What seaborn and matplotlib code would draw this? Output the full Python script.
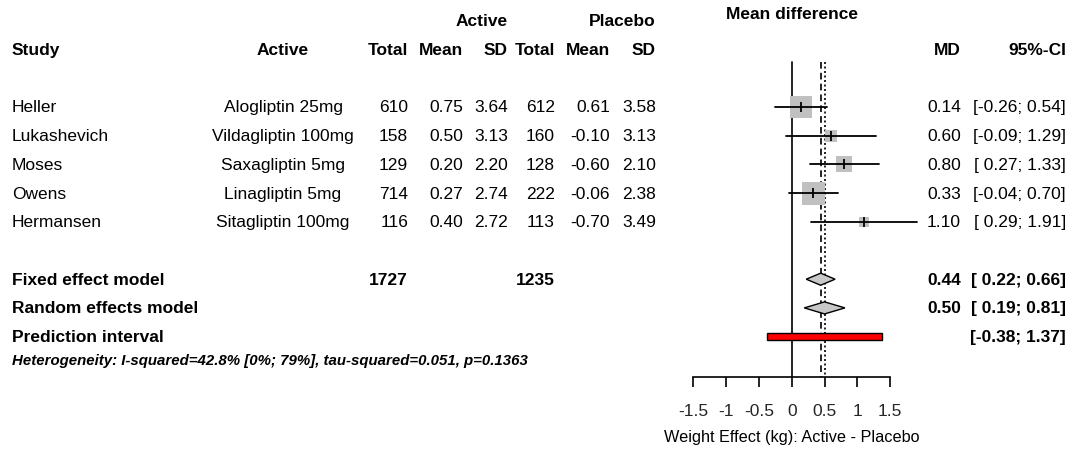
import numpy as np
import pandas as pd
import matplotlib
matplotlib.use("Agg")
import matplotlib.pyplot as plt
import matplotlib.transforms as mtransforms
import seaborn as sns

# ---------------- data ----------------
studies = ["Heller", "Lukashevich", "Moses", "Owens", "Hermansen"]
actives = ["Alogliptin 25mg", "Vildagliptin 100mg", "Saxagliptin 5mg",
           "Linagliptin 5mg", "Sitagliptin 100mg"]
act_total = [610, 158, 129, 714, 116]
act_mean = [0.75, 0.50, 0.20, 0.27, 0.40]
act_sd = [3.64, 3.13, 2.20, 2.74, 2.72]
pla_total = [612, 160, 128, 222, 113]
pla_mean = [0.61, -0.10, -0.60, -0.06, -0.70]
pla_sd = [3.58, 3.13, 2.10, 2.38, 3.49]
md = [0.14, 0.60, 0.80, 0.33, 1.10]
ci_low = [-0.26, -0.09, 0.27, -0.04, 0.29]
ci_high = [0.54, 1.29, 1.33, 0.70, 1.91]

fixed_md, fixed_low, fixed_high = 0.44, 0.22, 0.66
random_md, random_low, random_high = 0.50, 0.19, 0.81
pred_low, pred_high = -0.38, 1.37
total_active, total_placebo = 1727, 1235
heterogeneity = "Heterogeneity: I-squared=42.8% [0%; 79%], tau-squared=0.051, p=0.1363"
tick_values = [-1.5, -1, -0.5, 0, 0.5, 1, 1.5]
tick_labels = ["-1.5", "-1", "-0.5", "0", "0.5", "1", "1.5"]
x_label = "Weight Effect (kg): Active - Placebo"

# ---------------- style ----------------
sns.set_theme(style="white")
plt.rcParams["font.family"] = ["Liberation Sans", "DejaVu Sans"]
plt.rcParams["text.color"] = "black"

W, H = 1071, 452
fig = plt.figure(figsize=(W / 100, H / 100), dpi=100)
ax = fig.add_axes([0, 0, 1, 1])

# layout: pixel mapping
x0_px, px_per_unit = 791.8, 65.6
y0_px, px_per_row = 108.0, 28.7
ax.set_xlim((0 - x0_px) / px_per_unit, (W - x0_px) / px_per_unit)
ax.set_ylim((H - y0_px) / px_per_row, (0 - y0_px) / px_per_row)

study_rows = np.arange(len(studies))
row_fixed, row_random, row_pred = 6, 7, 8
axis_row = (378 - y0_px) / px_per_row
top_row = (63 - y0_px) / px_per_row

FS = 12.5
trans = mtransforms.blended_transform_factory(ax.transAxes, ax.transData)
def px(x):
    return x / W

# ---------------- reference lines ----------------
ax.plot([0, 0], [top_row, axis_row], color="black", lw=1.2, zorder=1)
ax.plot([fixed_md, fixed_md], [top_row, axis_row], color="black", lw=1.2,
        ls=(0, (4, 2.5)), zorder=1)
ax.plot([random_md, random_md], [top_row, axis_row], color="black", lw=1.2,
        ls=(0, (1.2, 1.5)), zorder=1)

# ---------------- study CIs and squares ----------------
df = pd.DataFrame({"study": studies, "md": md, "low": ci_low, "high": ci_high,
                   "row": study_rows})
se = (df["high"] - df["low"]) / (2 * 1.96)
df["weight"] = 1 / se**2
for _, r in df.iterrows():
    ax.plot([r["low"], r["high"]], [r["row"], r["row"]], color="black",
            lw=1.3, zorder=3)
max_side_pt = 16.5
sns.scatterplot(data=df, x="md", y="row", size="weight",
                sizes=(0, max_side_pt**2), size_norm=(0, df["weight"].max()),
                marker="s", color="#c0c0c0", linewidth=0, legend=False,
                ax=ax, zorder=2)
sns.scatterplot(data=df, x="md", y="row", marker="|", s=60, color="black",
                linewidth=1.3, legend=False, ax=ax, zorder=4)

# ---------------- diamonds ----------------
dh = 0.21
for m, lo, hi, rw in [(fixed_md, fixed_low, fixed_high, row_fixed),
                      (random_md, random_low, random_high, row_random)]:
    ax.fill([lo, m, hi, m], [rw, rw - dh, rw, rw + dh], facecolor="#c8c8c8",
            edgecolor="black", lw=1.0, zorder=5)

# prediction interval
ax.barh(y=row_pred, width=pred_high - pred_low, left=pred_low, height=0.23,
        color="red", edgecolor="black", lw=1.0, zorder=5)

# ---------------- x axis ----------------
for s in ["top", "left", "right"]:
    ax.spines[s].set_visible(False)
ax.spines["bottom"].set_position(("data", axis_row))
ax.spines["bottom"].set_bounds(tick_values[0], tick_values[-1])
ax.spines["bottom"].set_color("black")
ax.spines["bottom"].set_linewidth(1.2)
ax.set_xticks(tick_values)
ax.set_xticklabels(tick_labels, fontsize=FS)
ax.tick_params(axis="x", direction="out", length=7.2, width=1.2,
               color="black", pad=11.8, bottom=True)
ax.set_yticks([])
ax.set_xlabel("")
ax.set_ylabel("")
ax.text(0, (438 - y0_px) / px_per_row, x_label, ha="center", va="center",
        fontsize=11.7)

# ---------------- headers ----------------
hdr_top = (22 - y0_px) / px_per_row
hdr = -2
ax.text(0, (15 - y0_px) / px_per_row, "Mean difference", ha="center",
        va="center", fontsize=FS, fontweight="bold")
ax.text(px(508), hdr_top, "Active", transform=trans, ha="right", va="center",
        fontsize=FS, fontweight="bold")
ax.text(px(656), hdr_top, "Placebo", transform=trans, ha="right", va="center",
        fontsize=FS, fontweight="bold")
ax.text(px(12), hdr, "Study", transform=trans, ha="left", va="center",
        fontsize=FS, fontweight="bold")
ax.text(px(283), hdr, "Active", transform=trans, ha="center", va="center",
        fontsize=FS, fontweight="bold")
col_right = {"t1": 408, "m1": 463, "s1": 508, "t2": 555, "m2": 610, "s2": 656,
             "md": 961, "ci": 1066}
for key, lab in [("t1", "Total"), ("m1", "Mean"), ("s1", "SD"), ("t2", "Total"),
                 ("m2", "Mean"), ("s2", "SD"), ("md", "MD"), ("ci", "95%-CI")]:
    ax.text(px(col_right[key]), hdr, lab, transform=trans, ha="right",
            va="center", fontsize=FS, fontweight="bold")

# ---------------- study rows ----------------
def ci_str(lo, hi):
    f = lambda v: f"{v:.2f}" if v < 0 else f" {v:.2f}"
    return f"[{f(lo)}; {hi:.2f}]"

for i in range(len(studies)):
    r = study_rows[i]
    ax.text(px(12), r, studies[i], transform=trans, ha="left", va="center", fontsize=FS)
    ax.text(px(283), r, actives[i], transform=trans, ha="center", va="center", fontsize=FS)
    vals = {"t1": f"{act_total[i]}", "m1": f"{act_mean[i]:.2f}", "s1": f"{act_sd[i]:.2f}",
            "t2": f"{pla_total[i]}", "m2": f"{pla_mean[i]:.2f}", "s2": f"{pla_sd[i]:.2f}",
            "md": f"{md[i]:.2f}", "ci": ci_str(ci_low[i], ci_high[i])}
    for k, v in vals.items():
        ax.text(px(col_right[k]), r, v, transform=trans, ha="right",
                va="center", fontsize=FS)

# ---------------- summary rows ----------------
for rw, lab in [(row_fixed, "Fixed effect model"), (row_random, "Random effects model"),
                (row_pred, "Prediction interval")]:
    ax.text(px(12), rw, lab, transform=trans, ha="left", va="center",
            fontsize=FS, fontweight="bold")
ax.text(px(col_right["t1"]), row_fixed, f"{total_active}", transform=trans,
        ha="right", va="center", fontsize=FS, fontweight="bold")
ax.text(px(col_right["t2"]), row_fixed, f"{total_placebo}", transform=trans,
        ha="right", va="center", fontsize=FS, fontweight="bold")
for rw, m, lo, hi in [(row_fixed, fixed_md, fixed_low, fixed_high),
                      (row_random, random_md, random_low, random_high)]:
    ax.text(px(col_right["md"]), rw, f"{m:.2f}", transform=trans, ha="right",
            va="center", fontsize=FS, fontweight="bold")
    ax.text(px(col_right["ci"]), rw, ci_str(lo, hi), transform=trans, ha="right",
            va="center", fontsize=FS, fontweight="bold")
ax.text(px(col_right["ci"]), row_pred, ci_str(pred_low, pred_high), transform=trans,
        ha="right", va="center", fontsize=FS, fontweight="bold")

ax.text(px(12), (361 - y0_px) / px_per_row, heterogeneity, transform=trans,
        ha="left", va="center", fontsize=10.8, fontweight="bold", style="italic")

fig.savefig("out.png", dpi=100)
